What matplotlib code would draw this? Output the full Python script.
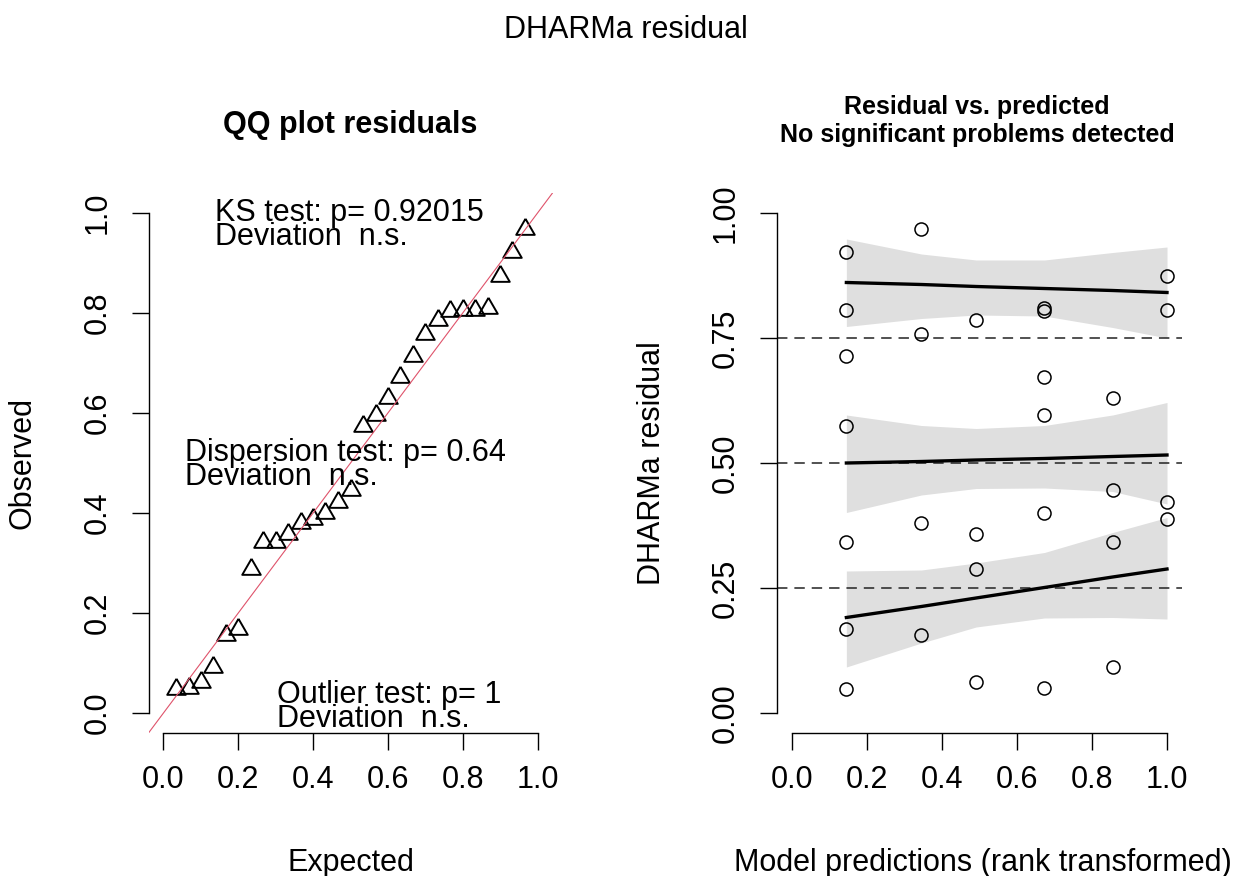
import numpy as np
import matplotlib
matplotlib.use("Agg")
import matplotlib.pyplot as plt

plt.rcParams['font.family'] = ['Liberation Sans', 'DejaVu Sans']
plt.rcParams['lines.scale_dashes'] = False

W, H = 1233, 876

# rank transformed model predictions (one entry per residual)
pred_rank = [0.145, 0.145, 0.145, 0.145, 0.145, 0.145, 0.145,
             0.345, 0.345, 0.345, 0.345,
             0.491, 0.491, 0.491, 0.491,
             0.673, 0.673, 0.673, 0.673, 0.673, 0.673,
             0.855, 0.855, 0.855, 0.855,
             1.0, 1.0, 1.0, 1.0]
# scaled (DHARMa) residuals
residuals = [0.923, 0.806, 0.714, 0.575, 0.343, 0.169, 0.048,
             0.969, 0.759, 0.381, 0.157,
             0.787, 0.359, 0.288, 0.062,
             0.811, 0.804, 0.673, 0.596, 0.400, 0.051,
             0.631, 0.446, 0.343, 0.093,
             0.874, 0.806, 0.423, 0.389]

# expected uniform quantiles for the QQ plot
expected = [0.033, 0.067, 0.100, 0.133, 0.167, 0.200, 0.233, 0.267, 0.300, 0.333,
            0.367, 0.400, 0.433, 0.467, 0.500, 0.533, 0.567, 0.600, 0.633, 0.667,
            0.700, 0.733, 0.767, 0.800, 0.833, 0.867, 0.900, 0.933, 0.967]

# quantile regression fits and their bands, evaluated at these x
q_x = [0.145, 0.345, 0.491, 0.673, 0.855, 1.0]
q75_fit = [0.861, 0.857, 0.853, 0.849, 0.845, 0.841]
q75_hi = [0.948, 0.918, 0.906, 0.906, 0.921, 0.932]
q75_lo = [0.773, 0.789, 0.796, 0.794, 0.771, 0.750]
q50_fit = [0.500, 0.503, 0.506, 0.509, 0.513, 0.516]
q50_hi = [0.596, 0.575, 0.569, 0.575, 0.596, 0.621]
q50_lo = [0.401, 0.436, 0.449, 0.450, 0.443, 0.418]
q25_fit = [0.191, 0.213, 0.230, 0.251, 0.272, 0.288]
q25_hi = [0.284, 0.286, 0.300, 0.321, 0.361, 0.391]
q25_lo = [0.092, 0.140, 0.172, 0.190, 0.191, 0.188]

# test annotations: (text, x, baseline of last line)
tests = [("KS test: p= 0.92015\nDeviation  n.s.", 0.138, 0.936),
         ("Dispersion test: p= 0.64\nDeviation  n.s.", 0.0575, 0.456),
         ("Outlier test: p= 1\nDeviation  n.s.", 0.303, -0.028)]

FS = 22
tri = [(0, 1), (0.866, -0.5), (-0.866, -0.5), (0, 1)]


def fx(px):
    return px / W


def fy(py):
    return 1 - py / H


def style_axes(ax):
    for s in ['top', 'right']:
        ax.spines[s].set_visible(False)
    for s in ['left', 'bottom']:
        ax.spines[s].set_bounds(0, 1)
        ax.spines[s].set_linewidth(1.0)
    ax.set_xlim(-0.04, 1.04)
    ax.set_ylim(-0.04, 1.04)
    ax.tick_params(direction='out', length=12, width=1.0, labelsize=FS)
    ax.tick_params(axis='x', pad=11)
    ax.tick_params(axis='y', pad=14, labelrotation=90)
    for lab in ax.get_yticklabels():
        lab.set_va('center')


fig = plt.figure(figsize=(W / 100, H / 100), dpi=100)

# QQ plot
ax1 = fig.add_axes([148.5 / W, (H - 733) / H, 404 / W, 540 / H])
ax1.plot(expected, np.sort(residuals), linestyle='none', marker=tri, markersize=15.4,
         markerfacecolor='none', markeredgecolor='black', markeredgewidth=1.4)
ax1.axline((0, 0), slope=1, color='#DF536B', lw=0.8)
ticks1 = [0.0, 0.2, 0.4, 0.6, 0.8, 1.0]
ax1.set_xticks(ticks1, [f"{t:.1f}" for t in ticks1])
ax1.set_yticks(ticks1, [f"{t:.1f}" for t in ticks1])
style_axes(ax1)
for txt, x, b in tests:
    ax1.text(x, b, txt, fontsize=FS, va='baseline', ha='left', linespacing=0.72)

# residual vs predicted
ax2 = fig.add_axes([777 / W, (H - 733) / H, 405 / W, 540 / H])
for lo, hi, fit in [(q25_lo, q25_hi, q25_fit), (q50_lo, q50_hi, q50_fit), (q75_lo, q75_hi, q75_fit)]:
    ax2.fill_between(q_x, lo, hi, color='#DFDFDF', lw=0, zorder=1)
    ax2.plot(q_x, fit, color='black', lw=2.4, zorder=3)
for h in [0.25, 0.5, 0.75]:
    ax2.axhline(h, color='#222222', lw=1.1, linestyle=(0, (7.5, 5)), zorder=2)
ax2.plot(pred_rank, residuals, linestyle='none', marker='o', markersize=9.4,
         markerfacecolor='none', markeredgecolor='black', markeredgewidth=1.1, zorder=4)
ticks2 = [0.0, 0.25, 0.5, 0.75, 1.0]
ax2.set_xticks(ticks1, [f"{t:.1f}" for t in ticks1])
ax2.set_yticks(ticks2, [f"{t:.2f}" for t in ticks2])
style_axes(ax2)

# titles and axis labels
fig.text(fx(626), fy(38), "DHARMa residual", fontsize=FS, ha='center', va='baseline')
fig.text(fx(350), fy(133), "QQ plot residuals", fontsize=FS, fontweight='bold',
         ha='center', va='baseline')
fig.text(fx(977), fy(114), "Residual vs. predicted", fontsize=18, fontweight='bold',
         ha='center', va='baseline')
fig.text(fx(977), fy(142), "No significant problems detected", fontsize=18,
         fontweight='bold', ha='center', va='baseline')
fig.text(fx(350.5), fy(871), "Expected", fontsize=FS, ha='center', va='baseline')
fig.text(fx(983), fy(871), "Model predictions (rank transformed)", fontsize=FS,
         ha='center', va='baseline')
fig.text(fx(23), fy(463), "Observed", fontsize=FS, rotation=90, ha='center', va='center')
fig.text(fx(652), fy(463), "DHARMa residual", fontsize=FS, rotation=90,
         ha='center', va='center')

fig.savefig("out.png", dpi=100)
